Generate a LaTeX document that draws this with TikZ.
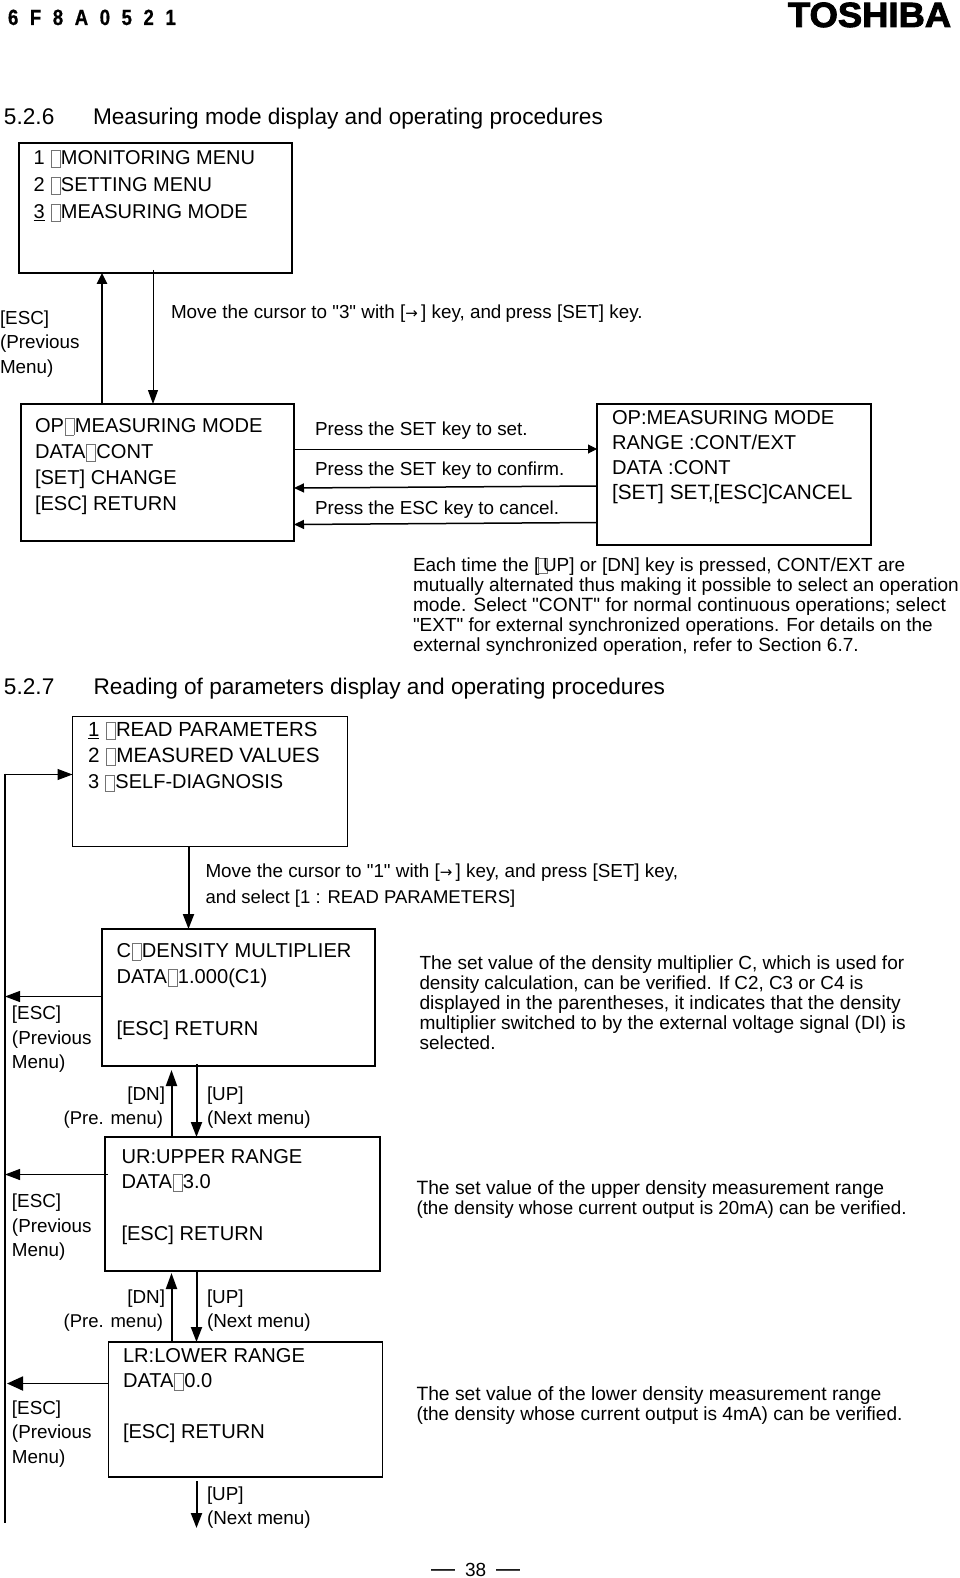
\documentclass[tikz,border=0pt]{standalone}
\usepackage{fontspec}
\usetikzlibrary{arrows.meta}
\setmainfont{Liberation Sans}
\newfontfamily\bodyf{Liberation Sans}
\newfontfamily\arrowfont{DejaVu Sans}
\newfontfamily\codefont[FakeStretch=0.85,FakeBold=0.6]{Liberation Sans Bold}
\newfontfamily\logofont[FakeBold=2.5,FakeStretch=1.04]{Liberation Sans Bold}
\definecolor{tofucol}{gray}{0.45}
\newcommand{\tofu}{\kern.04em\raisebox{-.13em}{\textcolor{tofucol}{\fboxsep=0pt\fboxrule=.6pt\fbox{\rule{0pt}{.8em}\hspace{.42em}}}}\kern.02em}
\newcommand{\Ls}[1]{\begin{tabular}[t]{@{}l@{}}#1\end{tabular}}
\newcommand{\Rs}[1]{\begin{tabular}[t]{@{}r@{}}#1\end{tabular}}
\newcommand{\rarr}{{\arrowfont\fontsize{15}{15}\selectfont →}}
\newcommand{\fs}[1]{\fontsize{#1}{20.2}\selectfont}
\tikzset{
  pic/.style={x=1pt,y=-1pt},
  menubox/.style={draw=black,line width=1.3pt,anchor=north west,inner sep=0pt,outer sep=0pt},
  lab/.style={anchor=base west,inner sep=0pt,outer sep=0pt},
  labr/.style={anchor=base east,inner sep=0pt,outer sep=0pt},
  big/.style={font=\fontsize{20.1}{26}\selectfont},
  mid/.style={font=\bodyf\fontsize{18.85}{24.7}\selectfont},
  para/.style={font=\bodyf\fontsize{19}{20.2}\selectfont},
  head/.style={font=\fontsize{22.65}{24}\selectfont},
  thick arrow/.style={line width=2pt,-{Triangle[length=15pt,width=11pt]}},
  thin arrow/.style={line width=1.1pt,-{Triangle[length=15pt,width=11pt]}},
  small arrow/.style={line width=1pt,-{Triangle[length=9pt,width=9pt]}},
  back arrow/.style={line width=1.5pt,-{Triangle[length=10pt,width=9pt]}},
}
\begin{document}
\begin{tikzpicture}[pic]
\useasboundingbox (0,0) rectangle (959,1578);
\fill[white] (0,0) rectangle (959,1578);

% page furniture
\node[lab,font=\fontsize{22}{22}\selectfont\codefont] (code) at (8,25) {\spaceskip=11.5pt 6 F 8 A 0 5 2 1};
\node[lab,font=\fontsize{35}{35}\selectfont\logofont] (logo) at (788,27) {TOSHIBA};
\node[lab,font=\fontsize{19}{19}\selectfont] (page) at (431,1576) {{\fontsize{24}{24}\selectfont —}\hspace{10pt}38\hspace{10pt}{\fontsize{24}{24}\selectfont —}};

% headings
\node[lab,head] (h1a) at (4,124.5) {5.2.6};
\node[lab,head] (h1b) at (93,124.5) {Measuring mode display and operating procedures};
\node[lab,head] (h2a) at (4,694.5) {5.2.7};
\node[lab,head] (h2b) at (93.5,694.5) {Reading of parameters display and operating procedures};

% boxes
\node[menubox,minimum width=273pt,minimum height=130pt] (b1) at (19,143) {};
\node[menubox,minimum width=273pt,minimum height=137pt] (b2) at (21,404) {};
\node[menubox,minimum width=274pt,minimum height=141pt] (b3) at (597,404) {};
\node[menubox,minimum width=275pt,minimum height=130pt] (b4) at (72.5,716.5) {};
\node[menubox,minimum width=273pt,minimum height=137pt] (b5) at (102,929) {};
\node[menubox,minimum width=275pt,minimum height=134pt] (b6) at (105,1137) {};
\node[menubox,minimum width=274pt,minimum height=135pt] (b7) at (108.5,1342) {};

% box texts
\node[lab,font=\fontsize{20}{27}\selectfont] (t1) at (33.5,164.5) {\Ls{1 \tofu MONITORING MENU\\2 \tofu SETTING MENU\\\underline{3} \tofu MEASURING MODE}};
\node[lab,big] (t2) at (35,432) {\Ls{OP\tofu MEASURING MODE\\DATA\tofu CONT\\{[SET]} CHANGE\\{[ESC]} RETURN}};
\node[lab,font=\fontsize{20.1}{25}\selectfont] (t3) at (612,424.5) {\Ls{OP:MEASURING MODE\\RANGE :CONT/EXT\\DATA :CONT\\\fontsize{20.8}{25}\selectfont{[SET]} SET,[ESC]CANCEL}};
\node[lab,font=\fontsize{20.4}{26}\selectfont] (t4) at (88,736.5) {\Ls{\underline{1} \tofu READ PARAMETERS\\\fontsize{20.7}{26}\selectfont 2 \tofu MEASURED VALUES\\\fontsize{20}{26}\selectfont 3 \tofu SELF-DIAGNOSIS}};
\node[lab,big] (t5) at (116.5,957) {\Ls{C\tofu DENSITY MULTIPLIER\\DATA\tofu 1.000(C1)\\[26pt]{[ESC]} RETURN}};
\node[lab,font=\fontsize{20.1}{25}\selectfont] (t6) at (121.5,1163) {\Ls{UR:UPPER RANGE\\DATA\tofu 3.0\\[27pt]{[ESC]} RETURN}};
\node[lab,font=\fontsize{20.1}{25}\selectfont] (t7) at (123,1362) {\Ls{LR:LOWER RANGE\\DATA\tofu 0.0\\[26pt]{[ESC]} RETURN}};

% free ends and connector columns
\coordinate (xa) at (102,0);
\coordinate (xb) at (153,0);
\coordinate (xc) at (188.5,0);
\coordinate (xdn) at (171.5,0);
\coordinate (xup) at (196.5,0);
\coordinate (railtop) at (5,774.5);
\coordinate (railbot) at (5,1523);
\coordinate (upend) at (196.5,1528);
\coordinate (upstart) at (196.5,1481);
\coordinate (ya) at (0,449);
\coordinate (yb) at (0,486);
\coordinate (yc) at (0,522.5);
\coordinate (e5) at (0,996.5);
\coordinate (e6) at (0,1174.5);
\coordinate (e7) at (0,1383.5);

% connectors, section 1
\draw[line width=1.7pt,-{Triangle[length=11pt,width=10.5pt]}] (b2.north -| xa) -- (b1.south -| xa);
\draw[line width=1pt,-{Triangle[length=14pt,width=10pt]}] ([yshift=3pt]b1.south -| xb) -- (b2.north -| xb);
\draw[small arrow] (b2.east |- ya) -- (b3.west |- ya);
\draw[back arrow] (b3.west |- yb) -- ([yshift=-2pt]b2.east |- yb);
\draw[back arrow] (b3.west |- yc) -- ([yshift=-2pt]b2.east |- yc);

% connectors, section 2
\draw[line width=1.7pt] ([yshift=1pt]railtop) -- (railbot);
\draw[thin arrow] (railtop) -- (b4.west |- railtop);
\draw[thick arrow] (b4.south -| xc) -- (b5.north -| xc);
\draw[thin arrow] (b5.west |- e5) -- (railtop |- e5);
\draw[thin arrow] ([xshift=3pt]b6.west |- e6) -- (railtop |- e6);
\draw[line width=1.9pt,-{Triangle[length=16pt,width=14pt]}] ([xshift=-1pt]b7.west |- e7) -- ([xshift=2pt]railtop |- e7);
\draw[line width=2pt,-{Triangle[length=16pt,width=11pt]}] (b6.north -| xdn) -- ([yshift=-4pt]b5.south -| xdn);
\draw[thick arrow] ([yshift=2pt]b5.south -| xup) -- (b6.north -| xup);
\draw[line width=2pt,-{Triangle[length=16pt,width=11pt]}] (b7.north -| xdn) -- ([yshift=-2pt]b6.south -| xdn);
\draw[thick arrow] ([yshift=1pt]b6.south -| xup) -- (b7.north -| xup);
\draw[thick arrow] (upstart) -- (upend);

% connector labels, section 1
\node[lab,mid] (esc1) at (0,324) {\Ls{{[ESC]}\\(Previous\\Menu)}};
\node[lab,mid] (mv1) at (171,318.5) {Move the cursor to "3" with [\rarr\,] key, and\hspace{-1pt} press [SET] key.};
\node[lab,mid] (p1) at (315,435) {Press the SET key to set.};
\node[lab,mid] (p2) at (315,475) {Press the SET key to confirm.};
\node[lab,mid] (p3) at (315,514) {Press the ESC key to cancel.};
\node[lab,para] (n1) at (413,571) {\Ls{\fs{18.95}Each time the [\hspace{-.1em}\tofu\hspace{-.25em}UP] or [DN] key is pressed, CONT/EXT are\\\fs{19.03}mutually alternated thus making it possible to select an operation\\\fs{19.2}mode. Select "CONT" for normal continuous operations; select\\\fs{18.95}"EXT" for external synchronized operations. For details on the\\external synchronized operation, refer to Section 6.7.}};

% connector labels, section 2
\node[lab,mid] (mv2) at (205.5,877) {\Ls{Move the cursor to "1" with [\rarr\,] key, and press [SET] key,\\[1.3pt]\fontsize{18.5}{24.7}\selectfont and select [1 : READ PARAMETERS]}};
\node[lab,mid] (esc5) at (12,1019.5) {\Ls{{[ESC]}\\(Previous\\Menu)}};
\node[lab,mid] (esc6) at (12,1207.5) {\Ls{{[ESC]}\\(Previous\\Menu)}};
\node[lab,mid] (esc7) at (12,1414) {\Ls{{[ESC]}\\(Previous\\Menu)}};
\node[labr,mid] (dn5) at (165,1100) {\Rs{{[DN]}\\[-.7pt]\fontsize{18.5}{24.7}\selectfont(Pre. menu)\kern2pt}};
\node[lab,mid] (up5) at (207,1100) {\Ls{{[UP]}\\[-.7pt](Next menu)}};
\node[labr,mid] (dn6) at (165,1303) {\Rs{{[DN]}\\[-.7pt]\fontsize{18.5}{24.7}\selectfont(Pre. menu)\kern2pt}};
\node[lab,mid] (up6) at (207,1303) {\Ls{{[UP]}\\[-.7pt](Next menu)}};
\node[lab,mid] (up7) at (207,1500) {\Ls{{[UP]}\\[-.7pt](Next menu)}};
\node[lab,para] (n5) at (419.5,969) {\Ls{The set value of the density multiplier C, which is used for\\\fs{18.85}density calculation, can be verified. If C2, C3 or C4 is\\\fs{19.2}displayed in the parentheses, it indicates that the density\\\fs{19.1}multiplier switched to by the external voltage signal (DI) is\\selected.}};
\node[lab,para] (n6) at (416.5,1194) {\Ls{\fs{19.25}The set value of the upper density measurement range\\\fs{18.8}(the density whose current output is 20mA) can be verified.}};
\node[lab,para] (n7) at (416.5,1400) {\Ls{\fs{19.27}The set value of the lower density measurement range\\\fs{19.05}(the density whose current output is 4mA) can be verified.}};
\end{tikzpicture}
\end{document}
